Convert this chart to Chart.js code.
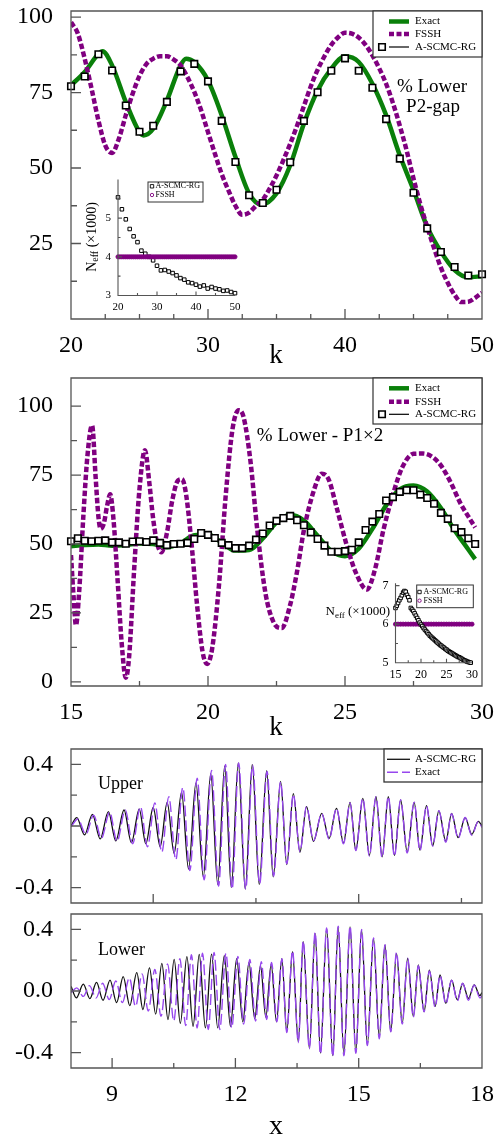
<!DOCTYPE html>
<html>
<head>
<meta charset="utf-8">
<title>Lower-state populations and wavepackets</title>
<script src="https://cdn.jsdelivr.net/npm/chart.js@4.4.1/dist/chart.umd.min.js"></script>
<style>
  html, body { margin: 0; padding: 0; background: #fff; }
  body { position: relative; width: 503px; height: 1138px; overflow: hidden; }
  canvas { position: absolute; }
</style>
</head>
<body>
<script>
// ---------- panel 1: % lower, P2-gap ----------
const p1K = [20, 21, 22, 23, 24, 25, 26, 27, 28, 29, 30, 31, 32, 33, 34, 35, 36, 37, 38, 39, 40,
             41, 42, 43, 44, 45, 46, 47, 48, 49, 50];
const p1Ascmc = [77.1, 80.3, 87.7, 82.3, 70.7, 62.0, 64.0, 71.9, 82.0, 84.5, 78.7, 65.6, 52.0, 41.0, 38.4,
                 42.8, 51.9, 65.6, 75.1, 82.2, 86.3, 82.2, 76.6, 66.2, 53.1, 41.8, 30.0, 22.2, 17.2, 14.4, 14.8];
const p1ExactK = [20, 21, 22, 22.3, 23, 24, 25, 25.3, 26, 27, 28, 28.4, 29, 30, 31, 32, 33, 33.9, 35, 36,
                  37, 38, 39, 40, 41, 42, 43, 44, 45, 46, 47, 48, 49, 50];
const p1Exact = [77.4, 81.8, 87.8, 88.7, 84.0, 71.9, 61.9, 60.8, 63.0, 72.4, 84.0, 86.2, 85.1, 79.0, 67.5,
                 53.7, 41.6, 37.9, 41.6, 50.9, 64.7, 75.7, 82.9, 87.0, 85.1, 77.9, 67.5, 54.2, 42.7, 30.5,
                 22.3, 16.2, 13.8, 14.2];
const p1FsshK = [20, 20.5, 21, 21.5, 22, 22.5, 23, 23.5, 24, 24.5, 25, 25.5, 26, 26.5, 27, 27.5, 28, 28.5,
                 29, 29.5, 30, 30.5, 31, 31.5, 32, 32.5, 33, 33.5, 34, 34.5, 35, 35.5, 36, 36.5, 37, 37.5,
                 38, 38.5, 39, 39.5, 40, 40.5, 41, 41.5, 42, 42.5, 43, 43.5, 44, 44.5, 45, 45.5, 46, 46.5,
                 47, 47.5, 48, 48.5, 49, 49.5, 50];
const p1Fssh = [98.3, 94.5, 86.2, 76.3, 65.8, 57.5, 55.0, 59.8, 67.5, 74.6, 80.5, 84.4, 86.2, 87.0, 87.0, 85.9,
                84.0, 80.1, 75.2, 69.1, 61.9, 54.8, 48.0, 42.5, 37.5, 34.5, 35.2, 37.5, 39.5, 43.2, 47.5, 52.6,
                58.0, 64.0, 70.5, 77.0, 82.5, 87.0, 90.8, 93.3, 94.8, 94.5, 93.2, 90.8, 87.3, 83.0, 77.9, 71.5,
                64.0, 55.8, 46.5, 38.0, 30.5, 23.5, 17.0, 12.0, 8.0, 5.6, 5.7, 7.0, 8.7];
// inset: N_eff (x1000)
const n1K = p1K;
const n1Ascmc = [5.54, 5.23, 4.97, 4.72, 4.53, 4.38, 4.16, 4.08, 4.00, 3.91, 3.77, 3.65, 3.66, 3.62, 3.58, 3.52,
                 3.45, 3.41, 3.34, 3.32, 3.28, 3.23, 3.26, 3.18, 3.22, 3.18, 3.16, 3.12, 3.13, 3.09, 3.06];
const n1FsshK = p1FsshK;
const n1Fssh = [4, 4, 4, 4, 4, 4, 4, 4, 4, 4, 4, 4, 4, 4, 4, 4, 4, 4, 4, 4, 4, 4, 4, 4, 4, 4, 4, 4, 4, 4, 4,
                4, 4, 4, 4, 4, 4, 4, 4, 4, 4, 4, 4, 4, 4, 4, 4, 4, 4, 4, 4, 4, 4, 4, 4, 4, 4, 4, 4, 4, 4];

// ---------- panel 2: % lower - P1x2 ----------
const p2K = [15, 15.25, 15.5, 15.75, 16, 16.25, 16.5, 16.75, 17, 17.25, 17.5, 17.75, 18, 18.25, 18.5, 18.75,
             19, 19.25, 19.5, 19.75, 20, 20.25, 20.5, 20.75, 21, 21.25, 21.5, 21.75, 22, 22.25, 22.5, 22.75,
             23, 23.25, 23.5, 23.75, 24, 24.25, 24.5, 24.75, 25, 25.25, 25.5, 25.75, 26, 26.25, 26.5, 26.75,
             27, 27.25, 27.5, 27.75, 28, 28.25, 28.5, 28.75, 29, 29.25, 29.5, 29.75];
const p2Ascmc = [51.0, 52.1, 51.2, 51.0, 51.2, 51.3, 50.6, 50.6, 50.1, 50.9, 51.0, 50.7, 51.3, 50.4, 49.6, 50.0,
                 50.1, 50.4, 51.8, 54.0, 53.3, 52.2, 50.4, 49.6, 48.5, 48.5, 49.4, 51.6, 53.8, 56.7, 58.4, 59.4,
                 60.2, 58.6, 56.8, 54.2, 51.8, 49.4, 47.2, 47.2, 47.4, 47.9, 50.6, 55.1, 58.1, 60.9, 65.8, 67.0,
                 68.9, 69.5, 69.5, 67.9, 66.7, 64.6, 61.3, 59.1, 55.7, 54.3, 52.1, 50.0];
const p2ExactK = [15, 15.5, 16, 16.5, 17, 17.5, 18, 18.5, 19, 19.5, 20, 20.5, 21, 21.5, 22, 22.5, 23, 23.5,
                  24, 24.5, 25, 25.5, 26, 26.5, 27, 27.5, 28, 28.5, 29, 29.5, 29.75];
const p2Exact = [49.2, 49.6, 49.8, 49.4, 49.6, 50.2, 50.0, 48.8, 50.3, 53.2, 53.4, 50.5, 47.6, 47.8, 52.0, 57.8,
                 60.6, 58.5, 53.0, 47.5, 45.6, 48.3, 55.5, 64.0, 69.8, 71.2, 69.0, 63.0, 55.0, 48.0, 44.5];
const p2FsshK = [15, 15.1, 15.18, 15.3, 15.45, 15.6, 15.77, 15.9, 16, 16.08, 16.2, 16.32, 16.43, 16.55, 16.7,
                 16.85, 17, 17.12, 17.3, 17.5, 17.7, 17.85, 18, 18.15, 18.3, 18.5, 18.7, 18.9, 19.05, 19.2,
                 19.4, 19.6, 19.8, 19.97, 20.15, 20.4, 20.65, 20.9, 21.12, 21.3, 21.55, 21.8, 22.1, 22.4,
                 22.69, 23, 23.25, 23.5, 23.85, 24.15, 24.4, 24.7, 25.05, 25.4, 25.8, 26.1, 26.4, 26.75,
                 27.1, 27.5, 27.85, 28.2, 28.5, 28.85, 29.2, 29.5, 29.75];
const p2Fssh = [46, 30, 20.5, 33, 60, 82, 93, 74, 60, 55.5, 57.5, 64, 68, 59, 37,
                14, 1.5, 9, 40, 70, 84, 73, 59, 50, 47, 54, 66, 73, 73.5, 68,
                50, 28, 11, 6.5, 12, 35, 68, 92, 98.5, 96, 80, 55, 32, 21.5,
                19.5, 28, 40, 55, 69, 75.5, 73.5, 63, 50, 39.5, 33.5, 41, 55, 68,
                78, 82.7, 82.8, 81.5, 78.5, 72.5, 65, 60, 56];
// inset: N_eff (x1000)
const n2K = p2K;
const n2Ascmc = [6.42, 6.48, 6.55, 6.62, 6.68, 6.75, 6.82, 6.86, 6.84, 6.76, 6.70, 6.62, 6.42, 6.38, 6.34, 6.28,
                 6.22, 6.16, 6.10, 6.04, 5.99, 5.95, 5.90, 5.86, 5.82, 5.78, 5.74, 5.70, 5.67, 5.64, 5.61, 5.58,
                 5.55, 5.52, 5.49, 5.46, 5.44, 5.41, 5.39, 5.36, 5.34, 5.31, 5.29, 5.27, 5.25, 5.23, 5.21, 5.19,
                 5.17, 5.15, 5.14, 5.12, 5.10, 5.08, 5.06, 5.05, 5.03, 5.02, 5.01, 5.00];
const n2FsshK = [15, 15.5, 16, 16.5, 17, 17.5, 18, 18.5, 19, 19.5, 20, 20.5, 21, 21.5, 22, 22.5, 23, 23.5,
                 24, 24.5, 25, 25.5, 26, 26.5, 27, 27.5, 28, 28.5, 29, 29.5, 30];
const n2Fssh = [6, 6, 6, 6, 6, 6, 6, 6, 6, 6, 6, 6, 6, 6, 6, 6, 6, 6, 6, 6, 6, 6, 6, 6, 6, 6, 6, 6, 6, 6, 6];

// ---------- panel 3: upper wavepacket (extrema) ----------
const upK = [8.00, 8.14, 8.33, 8.52, 8.71, 8.91, 9.09, 9.29, 9.47, 9.66,
             9.82, 10.00, 10.17, 10.34, 10.51, 10.69, 10.86, 11.04, 11.22, 11.40,
             11.57, 11.74, 11.90, 12.07, 12.24, 12.41, 12.58, 12.76, 12.92, 13.10,
             13.25, 13.41, 13.57, 13.73, 13.90, 14.10, 14.28, 14.46, 14.63, 14.79,
             14.93, 15.10, 15.26, 15.42, 15.57, 15.72, 15.87, 16.02, 16.18, 16.35,
             16.49, 16.65, 16.80, 16.95, 17.12, 17.26, 17.42, 17.59, 17.75, 17.91, 18.00];
const upAscmc = [0.0, 0.054, -0.058, 0.076, -0.084, 0.093, -0.097, 0.104, -0.108, 0.11,
                 -0.115, 0.12, -0.135, 0.154, -0.178, 0.22, -0.28, 0.28, -0.33, 0.34,
                 -0.38, 0.39, -0.40, 0.41, -0.41, 0.40, -0.38, 0.36, -0.33, 0.29,
                 -0.25, 0.21, -0.17, 0.126, -0.10, 0.082, -0.08, 0.115, -0.11, 0.154,
                 -0.156, 0.18, -0.19, 0.19, -0.20, 0.19, -0.19, 0.17, -0.17, 0.154,
                 -0.156, 0.132, -0.128, 0.098, -0.10, 0.082, -0.076, 0.054, -0.054, 0.03, 0.0];
const upExactK = [8.00, 8.17, 8.36, 8.55, 8.74, 8.94, 9.12, 9.32, 9.50, 9.69,
                  9.86, 10.04, 10.21, 10.38, 10.55, 10.72, 10.89, 11.07, 11.24, 11.42,
                  11.59, 11.76, 11.92, 12.08, 12.25, 12.42, 12.59, 12.77, 12.93, 13.10,
                  13.25, 13.41, 13.57, 13.73, 13.90, 14.10, 14.28, 14.46, 14.63, 14.79,
                  14.93, 15.10, 15.26, 15.42, 15.57, 15.72, 15.87, 16.02, 16.18, 16.35,
                  16.49, 16.65, 16.80, 16.95, 17.12, 17.26, 17.42, 17.59, 17.75, 17.91, 18.00];
const upExact = [-0.005, 0.045, -0.055, 0.07, -0.08, 0.09, -0.10, 0.105, -0.115, 0.125,
                 -0.135, 0.15, -0.17, 0.19, -0.22, 0.25, -0.29, 0.31, -0.35, 0.36,
                 -0.39, 0.40, -0.41, 0.41, -0.41, 0.395, -0.375, 0.355, -0.325, 0.285,
                 -0.245, 0.205, -0.165, 0.125, -0.095, 0.08, -0.085, 0.115, -0.115, 0.15,
                 -0.16, 0.18, -0.195, 0.19, -0.205, 0.19, -0.195, 0.17, -0.175, 0.155,
                 -0.16, 0.13, -0.13, 0.10, -0.105, 0.08, -0.08, 0.055, -0.06, 0.03, -0.01];

// ---------- panel 4: lower wavepacket ----------
const loK = [8.00, 8.13, 8.30, 8.46, 8.62, 8.78, 8.95, 9.11, 9.27, 9.43,
             9.60, 9.75, 9.91, 10.06, 10.21, 10.36, 10.51, 10.66, 10.82, 10.97,
             11.12, 11.27, 11.42, 11.57, 11.73, 11.88, 12.03, 12.18, 12.33, 12.47,
             12.61, 12.74, 12.87, 13.00, 13.13, 13.25, 13.39, 13.53, 13.65, 13.80,
             13.94, 14.07, 14.22, 14.37, 14.50, 14.64, 14.79, 14.93, 15.07, 15.21,
             15.36, 15.50, 15.64, 15.78, 15.92, 16.06, 16.19, 16.33, 16.45, 16.59,
             16.72, 16.86, 16.98, 17.12, 17.26, 17.40, 17.53, 17.67, 17.81, 17.95, 18.00];
const loAscmc = [0.03, -0.045, 0.045, -0.05, 0.056, -0.06, 0.071, -0.075, 0.093, -0.095,
                 0.119, -0.12, 0.15, -0.15, 0.18, -0.185, 0.205, -0.21, 0.223, -0.23,
                 0.238, -0.24, 0.24, -0.24, 0.23, -0.23, 0.21, -0.20, 0.185, -0.18,
                 0.165, -0.17, 0.175, -0.20, 0.21, -0.264, 0.255, -0.33, 0.32, -0.372,
                 0.374, -0.404, 0.406, -0.42, 0.417, -0.415, 0.417, -0.40, 0.396, -0.35,
                 0.342, -0.30, 0.30, -0.264, 0.244, -0.21, 0.212, -0.166, 0.17, -0.134,
                 0.136, -0.10, 0.104, -0.08, 0.071, -0.058, 0.05, -0.048, 0.04, -0.03, -0.01];
const loExactK = [8.00, 8.14, 8.30, 8.45, 8.61, 8.77, 8.93, 9.09, 9.25, 9.42,
                  9.57, 9.73, 9.88, 10.04, 10.19, 10.35, 10.50, 10.65, 10.79, 10.93,
                  11.07, 11.20, 11.34, 11.48, 11.62, 11.77, 11.91, 12.06, 12.20, 12.35,
                  12.49, 12.63, 12.76, 12.88, 13.01, 13.13,
                  13.25, 13.39, 13.53, 13.65, 13.80, 13.94, 14.07, 14.22, 14.37, 14.50,
                  14.64, 14.79, 14.93, 15.07, 15.21, 15.36, 15.50, 15.64, 15.78, 15.92,
                  16.06, 16.19, 16.33, 16.45, 16.59, 16.72, 16.86, 16.98, 17.12, 17.26,
                  17.40, 17.53, 17.67, 17.81, 17.95, 18.00];
const loExact = [-0.01, 0.02, -0.035, 0.035, -0.045, 0.05, -0.055, 0.065, -0.075, 0.085,
                 -0.10, 0.11, -0.13, 0.14, -0.165, 0.175, -0.195, 0.21, -0.225, 0.235,
                 -0.24, 0.245, -0.25, 0.25, -0.25, 0.245, -0.24, 0.225, -0.215, 0.205,
                 -0.195, 0.19, -0.185, 0.185, -0.20, 0.21,
                 -0.27, 0.26, -0.335, 0.325, -0.375, 0.38, -0.41, 0.41, -0.425, 0.42,
                 -0.42, 0.42, -0.405, 0.40, -0.355, 0.345, -0.31, 0.30, -0.265, 0.25,
                 -0.215, 0.215, -0.17, 0.165, -0.135, 0.13, -0.105, 0.10, -0.085, 0.07,
                 -0.065, 0.05, -0.06, 0.04, -0.045, -0.03];

// ---------- styling ----------
const SERIF = '"Liberation Serif", "Times New Roman", serif';
const GREEN = '#0a800a';
const PURPLE = '#800080';
const VIOLET = '#9747ee';
Chart.defaults.font.family = SERIF;

const pts = (xs, ys) => xs.map((x, i) => ({ x, y: ys[i] }));
const lineDs = (data, color, width, dash) => ({
  data, showLine: true, borderColor: color, borderWidth: width, borderDash: dash || [],
  pointRadius: 0, tension: 0.4, cubicInterpolationMode: 'monotone', fill: false
});
const markDs = (data, style, r, color, fill, lw) => ({
  data, showLine: false, pointStyle: style, pointRadius: r, pointBorderColor: color,
  pointBackgroundColor: fill, pointBorderWidth: lw, clip: false
});
const tk = (major, minor, lMaj, lMin) => major.map(v => [v, lMaj]).concat(minor.map(v => [v, lMin]));

function addCanvas(left, top, w, h) {
  const c = document.createElement('canvas');
  c.width = w; c.height = h;
  c.style.cssText = `left:${left}px;top:${top}px;width:${w}px;height:${h}px`;
  document.body.appendChild(c);
  return c;
}

function drawMark(ctx, m, x, y) {
  ctx.save();
  ctx.setLineDash([]);
  ctx.lineWidth = m.lw;
  ctx.strokeStyle = m.color;
  ctx.beginPath();
  if (m.style === 'rect') ctx.rect(x - m.size / 2, y - m.size / 2, m.size, m.size);
  else ctx.arc(x, y, m.size / 2, 0, Math.PI * 2);
  if (m.fill) { ctx.fillStyle = m.fill; ctx.fill(); }
  ctx.stroke();
  ctx.restore();
}

function drawLegend(ctx, L) {
  const [bx, by, bw, bh] = L.box;
  ctx.save();
  ctx.fillStyle = '#fff';
  ctx.fillRect(bx, by, bw, bh);
  ctx.strokeStyle = '#333';
  ctx.lineWidth = L.lw;
  ctx.setLineDash([]);
  ctx.strokeRect(bx, by, bw, bh);
  ctx.font = `${L.size}px ${SERIF}`;
  ctx.textAlign = 'left';
  ctx.textBaseline = 'middle';
  for (const r of L.rows) {
    if (r.line) {
      ctx.save();
      ctx.strokeStyle = r.line.color;
      ctx.lineWidth = r.line.width;
      ctx.setLineDash(r.line.dash || []);
      ctx.beginPath();
      ctx.moveTo(L.lineX[0], r.y);
      ctx.lineTo(L.lineX[1], r.y);
      ctx.stroke();
      ctx.restore();
    }
    if (r.mark) drawMark(ctx, r.mark, L.markX, r.y);
    ctx.fillStyle = '#000';
    ctx.fillText(r.text, L.textX, r.y);
  }
  ctx.restore();
}

function drawNeff(ctx, n) {
  ctx.save();
  ctx.translate(n.x, n.y);
  if (n.rotate) ctx.rotate(-Math.PI / 2);
  const big = `${n.size}px ${SERIF}`;
  const small = `${Math.round(n.size * 0.72)}px ${SERIF}`;
  ctx.font = big;
  const w1 = ctx.measureText('N').width;
  const w3 = ctx.measureText(' (\u00d71000)').width;
  ctx.font = small;
  const w2 = ctx.measureText('eff').width;
  const total = w1 + w2 + w3;
  const x0 = n.align === 'right' ? -total : -total / 2;
  const base = n.size * 0.33;
  ctx.fillStyle = '#000';
  ctx.textAlign = 'left';
  ctx.textBaseline = 'alphabetic';
  ctx.font = big;
  ctx.fillText('N', x0, base);
  ctx.font = small;
  ctx.fillText('eff', x0 + w1, base + n.size * 0.2);
  ctx.font = big;
  ctx.fillText(' (\u00d71000)', x0 + w1 + w2, base);
  ctx.restore();
}

function decoPlugin(d) {
  return {
    id: 'deco',
    afterDatasetsDraw(chart) {
      const { ctx, chartArea: a } = chart;
      const x = chart.scales.x, y = chart.scales.y;
      ctx.save();
      ctx.setLineDash([]);
      ctx.strokeStyle = d.frameColor || '#555';
      ctx.lineWidth = d.frameWidth || 1.3;
      ctx.beginPath();
      if (d.box) ctx.rect(a.left, a.top, a.right - a.left, a.bottom - a.top);
      else { ctx.moveTo(a.left, a.top); ctx.lineTo(a.left, a.bottom); ctx.lineTo(a.right, a.bottom); }
      ctx.stroke();
      ctx.beginPath();
      d.xTicks.forEach(([v, len]) => { const p = x.getPixelForValue(v); ctx.moveTo(p, a.bottom); ctx.lineTo(p, a.bottom - len); });
      d.yTicks.forEach(([v, len]) => { const p = y.getPixelForValue(v); ctx.moveTo(a.left, p); ctx.lineTo(a.left + len, p); });
      ctx.stroke();
      (d.texts || []).forEach(t => {
        ctx.font = `${t.size}px ${SERIF}`;
        ctx.fillStyle = '#000';
        ctx.textAlign = t.align || 'center';
        ctx.textBaseline = t.baseline || 'middle';
        ctx.fillText(t.text, t.x, t.y);
      });
      if (d.legend) drawLegend(ctx, d.legend);
      if (d.neff) drawNeff(ctx, d.neff);
      ctx.restore();
    }
  };
}

function panel(p) {
  const cv = addCanvas(p.left, p.top, p.w, p.h);
  const a = p.area;
  const font = { family: SERIF, size: p.tickSize };
  return new Chart(cv, {
    type: 'scatter',
    data: { datasets: p.datasets },
    options: {
      responsive: false, maintainAspectRatio: false, animation: false, events: [],
      layout: { padding: { left: 0, top: a.top, right: p.w - a.right, bottom: 0 } },
      plugins: { legend: { display: false }, tooltip: { enabled: false } },
      scales: {
        x: {
          type: 'linear', min: p.x[0], max: p.x[1],
          grid: { display: false, drawTicks: false }, border: { display: false },
          ticks: { display: p.xLabels.length > 0, padding: p.xPad, font, color: '#000', maxRotation: 0, autoSkip: false },
          afterBuildTicks: s => { s.ticks = p.xLabels.map(v => ({ value: v })); },
          afterFit: s => { s.height = p.h - a.bottom; s.paddingLeft = 0; s.paddingRight = 0; }
        },
        y: {
          type: 'linear', min: p.y[0], max: p.y[1],
          grid: { display: false, drawTicks: false }, border: { display: false },
          ticks: { padding: p.yPad, font, color: '#000', autoSkip: false, callback: p.yFmt || (v => String(v)) },
          afterBuildTicks: s => { s.ticks = p.yLabels.map(v => ({ value: v })); },
          afterFit: s => { s.width = a.left; s.paddingTop = 0; s.paddingBottom = 0; }
        }
      }
    },
    plugins: [decoPlugin(p.deco)]
  });
}

const SQ = { style: 'rect', size: 6.5, lw: 1.6, color: '#000', fill: '#fff' };
const mainLegendRows = (y0, y1, y2) => [
  { y: y0, text: 'Exact', line: { color: GREEN, width: 4.5 } },
  { y: y1, text: 'FSSH', line: { color: PURPLE, width: 4.5, dash: [5, 2.5] } },
  { y: y2, text: 'A-SCMC-RG', line: { color: '#000', width: 1.2 }, mark: SQ }
];
const insetLegendRows = (y0, y1) => [
  { y: y0, text: 'A-SCMC-RG', mark: { style: 'rect', size: 3.4, lw: 0.9, color: '#000', fill: '#fff' } },
  { y: y1, text: 'FSSH', mark: { style: 'circle', size: 3.4, lw: 0.9, color: PURPLE, fill: '#fff' } }
];
const fix1 = v => v.toFixed(1);

// panel 1
panel({
  left: 0, top: 0, w: 503, h: 370, area: { left: 71, right: 482, top: 11, bottom: 319 },
  x: [20, 50], y: [0, 102], xLabels: [20, 30, 40, 50], yLabels: [25, 50, 75, 100],
  tickSize: 24, xPad: 12, yPad: 18,
  datasets: [
    markDs(pts(p1K, p1Ascmc), 'rect', 4.6, '#000', '#fff', 1.6),
    lineDs(pts(p1FsshK, p1Fssh), PURPLE, 4.5, [5.5, 2.5]),
    lineDs(pts(p1ExactK, p1Exact), GREEN, 4.5)
  ],
  deco: {
    box: true,
    xTicks: tk([30, 40], [22.5, 25, 27.5, 32.5, 35, 37.5, 42.5, 45, 47.5], 10, 5),
    yTicks: tk([25, 50, 75, 100], [12.5, 37.5, 62.5, 87.5], 10, 6),
    texts: [
      { text: '% Lower', x: 432, y: 87, size: 19 },
      { text: 'P2-gap', x: 433, y: 107, size: 19 },
      { text: 'k', x: 276, y: 363, size: 27, baseline: 'alphabetic' }
    ],
    legend: { box: [373, 11, 109, 46], lw: 1.2, size: 11, lineX: [389, 409], markX: 382, textX: 415,
              rows: mainLegendRows(21.5, 34, 47) }
  }
});

// inset of panel 1
panel({
  left: 40, top: 170, w: 220, h: 150, area: { left: 78, right: 195, top: 9.5, bottom: 125.5 },
  x: [20, 50], y: [3, 6], xLabels: [20, 30, 40, 50], yLabels: [3, 4, 5],
  tickSize: 11, xPad: 5, yPad: 7,
  datasets: [
    markDs(pts(n1FsshK, n1Fssh), 'circle', 2.1, PURPLE, PURPLE, 0.8),
    markDs(pts(n1K, n1Ascmc), 'rect', 2.5, '#000', '#fff', 1)
  ],
  deco: {
    box: false, frameWidth: 1.1,
    xTicks: tk([30, 40], [25, 35, 45], 4, 2.5),
    yTicks: tk([4, 5], [3.5, 4.5, 5.5], 4, 2.5),
    legend: { box: [108, 12, 55, 20], lw: 1, size: 8, lineX: [0, 0], markX: 112, textX: 115.5,
              rows: insetLegendRows(16.3, 25) },
    neff: { x: 51, y: 67, size: 14, rotate: true }
  }
});

// panel 2
panel({
  left: 0, top: 370, w: 503, h: 375, area: { left: 71, right: 482, top: 8, bottom: 316 },
  x: [15, 30], y: [-1.5, 110.2], xLabels: [15, 20, 25, 30], yLabels: [0, 25, 50, 75, 100],
  tickSize: 24, xPad: 12, yPad: 18,
  datasets: [
    markDs(pts(p2K, p2Ascmc), 'rect', 4.6, '#000', '#fff', 1.6),
    lineDs(pts(p2FsshK, p2Fssh), PURPLE, 4.5, [5.5, 2.5]),
    lineDs(pts(p2ExactK, p2Exact), GREEN, 4.5)
  ],
  deco: {
    box: true,
    xTicks: tk([20, 25], [17.5, 22.5, 27.5], 10, 5),
    yTicks: tk([0, 25, 50, 75, 100], [12.5, 37.5, 62.5, 87.5], 10, 6),
    texts: [
      { text: '% Lower - P1\u00d72', x: 320, y: 66, size: 19 },
      { text: 'k', x: 276, y: 365, size: 27, baseline: 'alphabetic' }
    ],
    legend: { box: [373, 8, 109, 46], lw: 1.2, size: 11, lineX: [389, 409], markX: 382, textX: 415,
              rows: mainLegendRows(18.3, 31.7, 44.3) }
  }
});

// inset of panel 2
panel({
  left: 310, top: 575, w: 185, h: 110, area: { left: 85.5, right: 162, top: 8.3, bottom: 87.7 },
  x: [15, 30], y: [5, 7.06], xLabels: [15, 20, 25, 30], yLabels: [5, 6, 7],
  tickSize: 12, xPad: 4.5, yPad: 7,
  datasets: [
    markDs(pts(n2K, n2Ascmc), 'rect', 2.5, '#000', '#fff', 1),
    markDs(pts(n2FsshK, n2Fssh), 'circle', 2.1, PURPLE, PURPLE, 0.8)
  ],
  deco: {
    box: false, frameWidth: 1.1,
    xTicks: tk([20, 25], [17.5, 22.5, 27.5], 4, 2.5),
    yTicks: tk([6, 7], [5.5, 6.5], 4, 2.5),
    legend: { box: [106.7, 10, 56.6, 22.7], lw: 1, size: 8, lineX: [0, 0], markX: 109.5, textX: 113.5,
              rows: insetLegendRows(17, 25.7) },
    neff: { x: 80, y: 36, size: 13, rotate: false, align: 'right' }
  }
});

// panel 3
panel({
  left: 0, top: 745, w: 503, h: 162, area: { left: 71, right: 482, top: 4, bottom: 158 },
  x: [8, 18], y: [-0.5, 0.5], xLabels: [], yLabels: [-0.4, 0, 0.4], yFmt: fix1,
  tickSize: 24, xPad: 12, yPad: 18,
  datasets: [
    lineDs(pts(upExactK, upExact), VIOLET, 1.4, [11, 4]),
    lineDs(pts(upK, upAscmc), '#111', 1.3)
  ],
  deco: {
    box: true,
    xTicks: tk([10, 15], [12.5, 17.5], 9, 5),
    yTicks: tk([-0.4, 0, 0.4], [-0.2, 0.2], 10, 6),
    texts: [{ text: 'Upper', x: 98, y: 39, size: 18, align: 'left' }],
    legend: { box: [384, 4, 98, 33], lw: 1.3, size: 11, lineX: [387, 410], markX: 0, textX: 415,
              rows: [
                { y: 14.3, text: 'A-SCMC-RG', line: { color: '#111', width: 1.3 } },
                { y: 27.3, text: 'Exact', line: { color: VIOLET, width: 1.4, dash: [11, 4] } }
              ] }
  }
});

// panel 4
panel({
  left: 0, top: 907, w: 503, h: 231, area: { left: 71, right: 482, top: 7, bottom: 161 },
  x: [8, 18], y: [-0.5, 0.5], xLabels: [9, 12, 15, 18], yLabels: [-0.4, 0, 0.4], yFmt: fix1,
  tickSize: 24, xPad: 12, yPad: 18,
  datasets: [
    lineDs(pts(loExactK, loExact), VIOLET, 1.4, [11, 4]),
    lineDs(pts(loK, loAscmc), '#111', 1.3)
  ],
  deco: {
    box: true,
    xTicks: tk([9, 12, 15], [10.5, 13.5, 16.5], 10, 5),
    yTicks: tk([-0.4, 0, 0.4], [-0.2, 0.2], 10, 6),
    texts: [
      { text: 'Lower', x: 98, y: 43, size: 18, align: 'left' },
      { text: 'x', x: 276, y: 227, size: 28, baseline: 'alphabetic' }
    ]
  }
});
</script>
</body>
</html>
